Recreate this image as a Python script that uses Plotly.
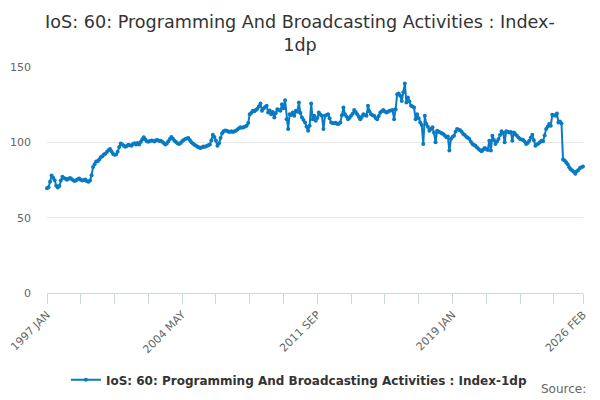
import pandas as pd
import plotly.graph_objects as go

# --- Data: monthly index values, Jan 1997 .. Feb 2026 ---
START_MONTH = "1997-01"
END_MONTH = "2026-02"

VALUES_1997_2001 = [
    69.5, 70.2, 73.8, 78.0, 76.5, 74.8, 71.2, 70.1, 71.0, 74.6, 77.1, 76.3,
    75.8, 75.2, 75.9, 76.4, 75.6, 74.9, 74.3, 74.8, 75.5, 76.0, 75.2, 74.6,
    74.9, 75.3, 74.2, 73.9, 74.6, 78.1, 83.6, 85.4, 87.2, 87.5, 88.6, 90.1,
    90.8, 91.9, 92.4, 93.6, 94.8, 95.6, 94.1, 92.3, 91.7, 92.0, 93.8, 96.9,
    99.3, 98.6, 97.8, 97.1, 97.6, 98.4, 98.1, 97.8, 98.9, 99.4, 98.5, 99.6,
]
VALUES_2002_2006 = [
    98.5, 100.2, 101.8, 103.3, 101.9, 100.7, 100.4, 100.9, 101.2, 101.1, 100.6, 101.3,
    101.5, 100.9, 101.1, 100.4, 99.6, 98.5, 99.2, 100.8, 102.2, 103.5, 102.4, 101.0,
    100.2, 99.4, 98.9, 99.6, 100.8, 101.6, 102.2, 102.6, 102.9, 101.5, 100.1, 99.3,
    98.4, 97.8, 97.0, 96.5, 96.3, 96.8, 97.2, 97.1, 97.6, 98.0, 98.5, 101.2,
    105.0, 103.6, 101.2, 97.8, 99.4, 102.8, 106.1, 107.3, 107.9, 107.7, 107.2, 106.8,
]
VALUES_2007_2011 = [
    107.3, 106.9, 107.4, 107.7, 108.6, 109.4, 110.0, 109.6, 110.0, 110.5, 111.0, 112.8,
    118.7, 119.5, 121.0, 120.6, 121.4, 122.3, 124.0, 125.8, 121.0, 122.4, 123.5, 124.2,
    119.8, 121.2, 118.7, 120.1, 116.5, 119.4, 122.0, 121.5, 121.0, 125.3, 122.6, 128.0,
    115.4, 108.8, 118.7, 118.2, 119.8, 117.6, 121.0, 120.3, 126.4, 119.5, 116.5, 114.8,
    113.2, 110.4, 107.7, 111.0, 125.8, 115.4, 117.6, 114.3, 116.2, 119.8, 118.3, 117.6,
]
VALUES_2012_2016 = [
    108.8, 117.6, 118.1, 118.7, 116.0, 113.2, 112.8, 112.6, 113.0, 112.1, 112.4, 113.2,
    117.9, 123.1, 118.7, 117.2, 115.4, 116.3, 117.6, 119.0, 121.4, 120.2, 118.7, 117.0,
    115.4, 116.8, 118.7, 118.1, 117.6, 124.2, 120.5, 118.7, 117.9, 117.6, 116.2, 115.4,
    117.5, 119.8, 120.6, 121.4, 120.4, 119.8, 120.3, 120.9, 121.2, 121.4, 115.4, 122.0,
    131.9, 132.4, 131.0, 127.5, 133.2, 139.0, 126.4, 129.7, 127.1, 124.2, 123.8, 123.1,
]
VALUES_2017_2021 = [
    115.4, 118.7, 116.0, 113.2, 111.5, 98.9, 117.6, 112.1, 110.4, 107.7, 108.9, 110.0,
    106.3, 100.0, 107.7, 107.1, 106.6, 106.0, 105.5, 104.6, 103.3, 103.9, 94.5, 102.2,
    103.6, 104.4, 107.1, 108.8, 108.3, 108.1, 107.0, 105.5, 104.8, 103.7, 103.0, 102.2,
    100.4, 98.9, 98.3, 97.8, 96.6, 95.6, 94.8, 94.1, 95.2, 96.3, 95.5, 94.9,
    101.1, 94.5, 104.4, 101.5, 98.9, 100.6, 102.2, 104.8, 107.3, 106.2, 100.0, 107.3,
]
VALUES_2022_2026 = [
    107.0, 106.6, 106.9, 101.1, 106.6, 105.3, 104.4, 103.2, 102.2, 101.9, 101.5, 100.6,
    98.9, 99.6, 101.1, 103.0, 105.1, 101.4, 97.8, 98.5, 99.3, 100.0, 101.1, 100.8,
    104.5, 108.8, 110.4, 112.1, 111.0, 118.3, 118.0, 117.6, 119.2, 113.2, 113.9, 112.5,
    88.6, 87.9, 86.8, 85.4, 83.5, 82.2, 81.3, 80.4, 79.1, 80.8, 81.7, 82.9,
    83.5, 83.9,
]

TICK_LABELS = ["1997 JAN", "2004 MAY", "2011 SEP", "2019 JAN", "2026 FEB"]
Y_TICKS = [0, 50, 100, 150]

TITLE = "IoS: 60: Programming And Broadcasting Activities : Index-<br>1dp"
SERIES_NAME = "IoS: 60: Programming And Broadcasting Activities : Index-1dp"

# Styles
LINE_COLOR = "#0a7bc2"
TEXT_COLOR = "#333333"
LABEL_COLOR = "#666666"
AXIS_COLOR = "#ccd6eb"
GRID_COLOR = "#e6e6e6"
FONT = "DejaVu Sans"

values = (
    VALUES_1997_2001 + VALUES_2002_2006 + VALUES_2007_2011
    + VALUES_2012_2016 + VALUES_2017_2021 + VALUES_2022_2026
)
months = pd.date_range(START_MONTH, END_MONTH, freq="MS")
categories = [d.strftime("%Y %b").upper() for d in months]

# tick marks every 22 months plus the last month, labels on a few of them
tick_idx = list(range(0, len(categories) - 1, 22)) + [len(categories) - 1]
tick_vals = [categories[i] for i in tick_idx]
tick_text = [c if c in TICK_LABELS else "" for c in tick_vals]

fig = go.Figure()

fig.add_trace(
    go.Scatter(
        x=categories,
        y=values,
        mode="lines+markers",
        name=SERIES_NAME,
        line=dict(color=LINE_COLOR, width=2),
        marker=dict(color=LINE_COLOR, size=4),
        cliponaxis=False,
    )
)

fig.update_layout(
    width=600,
    height=400,
    margin=dict(l=47, r=17, t=67, b=107, autoexpand=False),
    font=dict(family=FONT, color=TEXT_COLOR),
    title=dict(
        text=TITLE,
        x=0.5,
        xanchor="center",
        y=0.93,
        yanchor="middle",
        font=dict(size=17.6, color=TEXT_COLOR),
    ),
    xaxis=dict(
        type="category",
        range=[0, len(categories) - 1],
        tickmode="array",
        tickvals=tick_vals,
        ticktext=tick_text,
        tickangle=-45,
        ticks="outside",
        ticklen=10,
        tickcolor=AXIS_COLOR,
        showline=True,
        linecolor=AXIS_COLOR,
        linewidth=1,
        showgrid=False,
        zeroline=False,
        automargin=False,
        tickfont=dict(size=11, color=LABEL_COLOR),
        fixedrange=True,
    ),
    yaxis=dict(
        range=[0, 150],
        tickvals=Y_TICKS,
        showgrid=True,
        gridcolor=GRID_COLOR,
        zeroline=False,
        showline=False,
        automargin=False,
        ticklabelstandoff=15,
        tickfont=dict(size=11, color=LABEL_COLOR),
        fixedrange=True,
    ),
    showlegend=True,
    legend=dict(
        orientation="h",
        x=0.47,
        xanchor="center",
        y=-0.32,
        yanchor="top",
        font=dict(size=12, color=TEXT_COLOR, weight="bold"),
    ),
    plot_bgcolor="white",
    paper_bgcolor="white",
)

fig.add_annotation(
    x=1.01,
    y=-0.425,
    xref="paper",
    yref="paper",
    text="Source:",
    showarrow=False,
    xanchor="right",
    yanchor="middle",
    font=dict(size=12, color=LABEL_COLOR),
)

# drop the default page margin so the 600x400 figure fills the window
fig.write_html(
    "out.html",
    config={"displayModeBar": False},
    post_script="document.body.style.margin='0';",
)
